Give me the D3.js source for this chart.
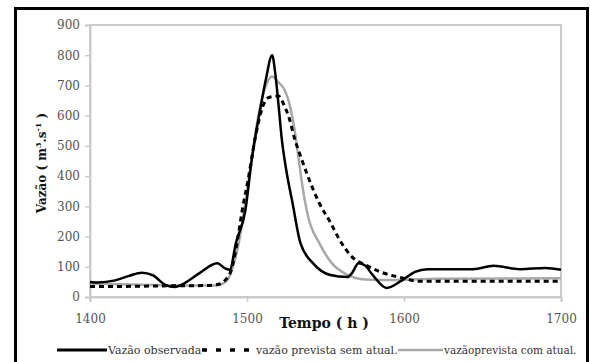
<!DOCTYPE html>
<html>
<head>
<meta charset="utf-8">
<script src="https://cdn.jsdelivr.net/npm/d3@7"></script>
<style>
  html, body { margin: 0; padding: 0; background: #fff; }
  svg { display: block; }
  svg text { font-family: "DejaVu Serif", "Liberation Serif", serif !important; }
</style>
</head>
<body>
<svg id="chart" width="590" height="362"></svg>
<script>
// Hydrograph: observed discharge vs. forecasts with and without updating
const xTicks = [1400, 1500, 1600, 1700];
const yTicks = [0, 100, 200, 300, 400, 500, 600, 700, 800, 900];

const obsHours = [1400,1405,1416,1425,1433,1440,1448,1454,1460,1470,1481,1486,1489,1493,1499,1503,1508,1512,1516,1518,1520,1522,1525,1529,1534,1542,1553,1564,1567,1571,1575,1580,1589,1599,1607,1615,1630,1644,1657,1674,1690,1700];
const obsValues = [50,48,55,70,80,72,40,33,45,80,112,95,90,180,288,453,609,720,800,740,640,530,420,311,179,112,73,66,80,112,105,73,30,56,83,92,92,92,103,92,96,90];

const semHours = [1400,1420,1450,1475,1482,1486,1490,1493,1497,1501,1505,1510,1514,1520,1524,1527,1530,1535,1538,1546,1553,1559,1567,1576,1585,1599,1610,1650,1700];
const semValues = [35,35,37,38,42,55,90,160,288,397,520,630,660,665,630,590,530,453,410,311,248,189,132,105,83,63,52,52,52];

const comHours = [1400,1420,1440,1460,1480,1485,1488,1491,1494,1497,1501,1508,1512,1516,1520,1524,1527,1530,1533,1535,1539,1546,1554,1564,1575,1590,1600,1620,1700];
const comValues = [45,42,40,38,38,45,60,100,160,245,387,620,700,730,710,685,640,563,453,377,265,179,112,73,58,56,57,60,62];

const legendLabels = ["Vazão observada", "vazão prevista sem atual.", "vazãoprevista com atual."];

const svg = d3.select("#chart");
const plot = { left: 90, right: 561, top: 25, bottom: 297 };

const x = d3.scaleLinear().domain([1400, 1700]).range([plot.left, plot.right]);
const y = d3.scaleLinear().domain([0, 900]).range([plot.bottom, plot.top]);

// outer frame
svg.append("rect")
  .attr("x", 15.5).attr("y", 8.5).attr("width", 572).attr("height", 370)
  .attr("fill", "none").attr("stroke", "#000").attr("stroke-width", 3);

// plot frame
svg.append("rect")
  .attr("x", plot.left).attr("y", plot.top)
  .attr("width", plot.right - plot.left).attr("height", plot.bottom - plot.top)
  .attr("fill", "none").attr("stroke", "#cbcbcb").attr("stroke-width", 2);

// axes
const yAxis = svg.append("g")
  .attr("transform", `translate(${plot.left},0)`)
  .call(d3.axisLeft(y).tickValues(yTicks).tickSize(5).tickPadding(5).tickFormat(d3.format("d")));
const xAxis = svg.append("g")
  .attr("transform", `translate(0,${plot.bottom})`)
  .call(d3.axisBottom(x).tickValues(xTicks).tickSize(5).tickPadding(12).tickFormat(d3.format("d")));

[yAxis, xAxis].forEach(g => {
  g.attr("font-family", null);
  g.select(".domain").attr("stroke", "#cbcbcb").attr("stroke-width", 2);
  g.selectAll(".tick line").attr("stroke", "#cbcbcb").attr("stroke-width", 1.5);
  g.selectAll(".tick text")
    .attr("font-size", 12).attr("fill", "#555");
});

// axis titles
svg.append("text")
  .attr("transform", "translate(46,163) rotate(-90)")
  .attr("text-anchor", "middle")
  .attr("font-size", 12).attr("font-weight", "bold").attr("fill", "#111")
  .html('Vazão ( m<tspan baseline-shift="super" font-size="8">3</tspan>.s<tspan baseline-shift="super" font-size="8">-1</tspan> )');

svg.append("text")
  .attr("x", 324).attr("y", 328)
  .attr("text-anchor", "middle")
  .attr("font-size", 14).attr("font-weight", "bold").attr("fill", "#111")
  .text("Tempo ( h )");

// series
const line = d3.line()
  .x(d => x(d[0])).y(d => y(d[1]))
  .curve(d3.curveMonotoneX);

const zip = (a, b) => a.map((h, i) => [h, b[i]]);

svg.append("path")
  .datum(zip(comHours, comValues))
  .attr("d", line).attr("fill", "none")
  .attr("stroke", "#a8a8a8").attr("stroke-width", 2.5);

svg.append("path")
  .datum(zip(semHours, semValues))
  .attr("d", line).attr("fill", "none")
  .attr("stroke", "#000").attr("stroke-width", 3)
  .attr("stroke-dasharray", "5,4");

svg.append("path")
  .datum(zip(obsHours, obsValues))
  .attr("d", line).attr("fill", "none")
  .attr("stroke", "#000").attr("stroke-width", 2.5);

// legend
const ly = 350;
const leg = svg.append("g");
leg.append("line").attr("x1", 57).attr("x2", 107).attr("y1", ly).attr("y2", ly)
  .attr("stroke", "#000").attr("stroke-width", 3);
leg.append("text").attr("x", 108).attr("y", ly + 4).attr("font-size", 11).attr("fill", "#333")
  .text(legendLabels[0]);
leg.append("line").attr("x1", 202).attr("x2", 252).attr("y1", ly).attr("y2", ly)
  .attr("stroke", "#000").attr("stroke-width", 3.5).attr("stroke-dasharray", "5,9");
leg.append("text").attr("x", 256).attr("y", ly + 4).attr("font-size", 11).attr("fill", "#333")
  .text(legendLabels[1]);
leg.append("line").attr("x1", 398).attr("x2", 443).attr("y1", ly).attr("y2", ly)
  .attr("stroke", "#a8a8a8").attr("stroke-width", 2.5);
leg.append("text").attr("x", 444).attr("y", ly + 4).attr("font-size", 10.5).attr("fill", "#333")
  .text(legendLabels[2]);
</script>
</body>
</html>
